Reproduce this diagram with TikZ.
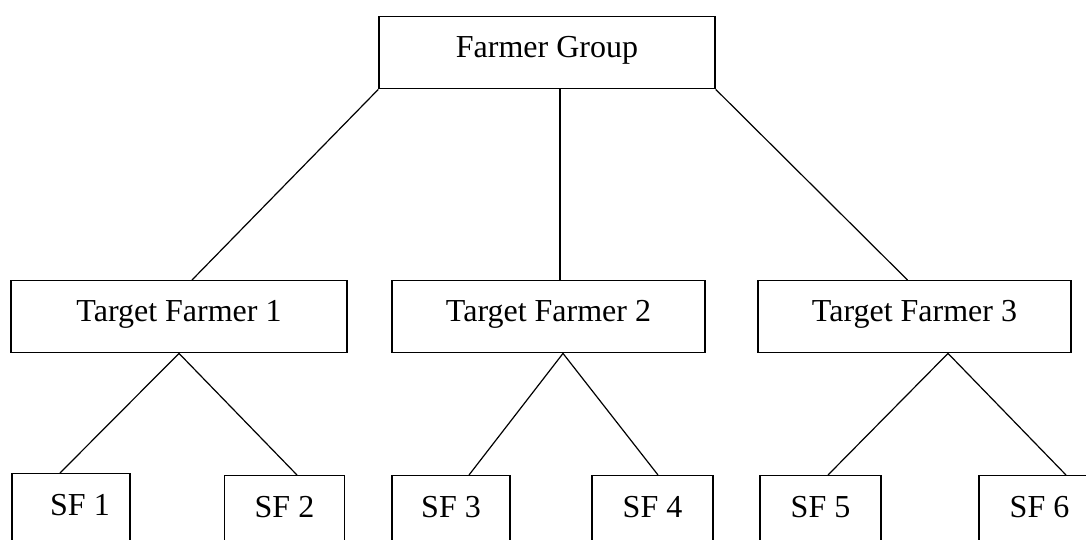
\documentclass[tikz,border=0pt]{standalone}
\usepackage{fontspec}
\setmainfont{Liberation Serif}
\usetikzlibrary{arrows}
\tikzset{
  treenode/.style = {rectangle, draw=black, line width=1.4pt, inner sep=0pt,
    anchor=north, text centered, font=\fontsize{32}{37}\selectfont},
  grp_n/.style = {treenode, text height=41pt, text depth=31pt},% groupe
  tgt_n/.style = {treenode, text height=41pt, text depth=31pt},% target farmer
  sf_n/.style = {treenode, text height=42pt, text depth=50pt}% sub farmer
}
\begin{document}
\begin{tikzpicture}[x=1pt,y=-1pt,line width=1.2pt]
  	\useasboundingbox (0,0) rectangle (1086,540);
  	\clip (0,0) rectangle (1086,540);
  	\node [grp_n, minimum width=336pt] (fg) at (547,16) {Farmer Group};
  	\node [tgt_n, minimum width=336pt] (tf1) at (179,280) {Target Farmer 1};
  	\node [tgt_n, minimum width=313pt] (tf2) at (548.5,280) {Target Farmer 2};
  	\node [tgt_n, minimum width=313pt] (tf3) at (914.5,280) {Target Farmer 3};
  	\node [sf_n, minimum width=118pt] (sf1) at (71,473) {\hspace*{18pt}SF 1};
  	\node [sf_n, minimum width=120pt] (sf2) at (284.5,475) {SF 2};
  	\node [sf_n, minimum width=118pt] (sf3) at (451,475) {SF 3};
  	\node [sf_n, minimum width=121pt] (sf4) at (652.5,475) {SF 4};
  	\node [sf_n, minimum width=121pt] (sf5) at (820.5,475) {SF 5};
  	\node [sf_n, minimum width=121pt] (sf6) at (1039.5,475) {SF 6};

	\foreach \from/\fx/\to/\tx in {fg.south west/0/tf1.north/13, fg.south/13/tf2.north/11.5,
	    fg.south east/0/tf3.north/-7, tf1.south/0/sf1.north/-11, tf1.south/0/sf2.north/12.5,
	    tf2.south/14.5/sf3.north/18, tf2.south/14.5/sf4.north/5.5,
	    tf3.south/33.5/sf5.north/7.5, tf3.south/33.5/sf6.north/26.5}
    	  \draw ([xshift=\fx pt]\from) -- ([xshift=\tx pt]\to);
\end{tikzpicture}
\end{document}
